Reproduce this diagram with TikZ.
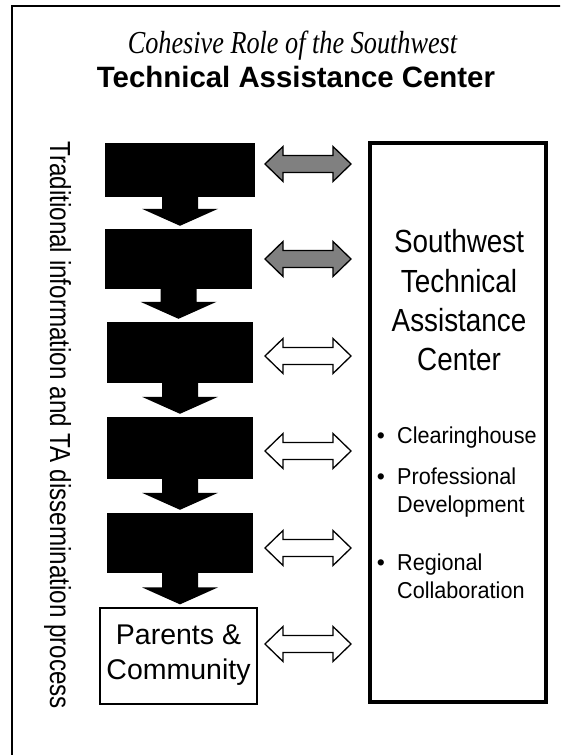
\documentclass[tikz,border=0pt]{standalone}
\usepackage{fontspec}
\setmainfont{Liberation Sans}
\newfontfamily\titleserif[FakeStretch=0.82]{Liberation Serif}
\newfontfamily\narrowsans[FakeStretch=0.835]{Liberation Sans}
\newfontfamily\boxsans[FakeStretch=0.87]{Liberation Sans}
\newfontfamily\itemsans[FakeStretch=0.94]{Liberation Sans}
\usetikzlibrary{calc}
\definecolor{linkgray}{HTML}{808080}

\tikzset{
  stagebox/.style={fill=black, draw=none, inner sep=0pt},
  framebox/.style={draw=black, line width=1.3pt, inner sep=0pt},
  centerbox/.style={draw=black, line width=4pt, inner sep=0pt},
  twoway/.pic={
    \path[pic actions] (-43,0) -- (-25,-17.5) -- (-25,-8.5) -- (25,-8.5)
      -- (25,-17.5) -- (43,0) -- (25,17.5) -- (25,8.5) -- (-25,8.5)
      -- (-25,17.5) -- cycle;
  },
  darklink/.style={draw=black, fill=linkgray, line width=1.3pt, line join=miter},
  lightlink/.style={draw=black, fill=white, line width=1.3pt, line join=miter},
  boxline/.style={inner sep=0pt, anchor=base, font=\boxsans\fontsize{32}{38}\selectfont},
  itemline/.style={inner sep=0pt, anchor=base west, font=\itemsans\fontsize{23}{28}\selectfont},
  bulletdot/.style={inner sep=0pt, anchor=base, font=\fontsize{23}{28}\selectfont},
  parentline/.style={inner sep=0pt, anchor=base, font=\fontsize{28.5}{34}\selectfont},
}

\begin{document}
\begin{tikzpicture}[x=1pt, y=-1pt]
\useasboundingbox (0,0) rectangle (560,755);
\clip (0,0) rectangle (560,755);

% outer frame (top and left edges)
\draw[line width=1.5pt] (565,6) -- (12,6) -- (12,760);

% title
\node[inner sep=0pt, anchor=base, font=\titleserif\itshape\fontsize{32}{38}\selectfont]
  (title1) at (292.5,53) {Cohesive Role of the Southwest};
\node[inner sep=0pt, anchor=base, font=\bfseries\fontsize{29.4}{34}\selectfont]
  (title2) at (296,87) {Technical Assistance Center};

% vertical caption
\node[inner sep=0pt, anchor=base west, rotate=-90, font=\narrowsans\fontsize{29}{34}\selectfont]
  (process) at (50,141) {Traditional information and TA dissemination process};

% stages of the dissemination process
\node[stagebox, minimum width=150, minimum height=54] (b1) at (180,170) {};
\node[stagebox, minimum width=147, minimum height=60] (b2) at (178.5,259) {};
\node[stagebox, minimum width=146, minimum height=61] (b3) at (180,352.5) {};
\node[stagebox, minimum width=146, minimum height=62] (b4) at (180,448) {};
\node[stagebox, minimum width=146, minimum height=60] (b5) at (180,543) {};
\node[framebox, minimum width=157, minimum height=96] (parents) at (178.5,656) {};
\node[parentline] (parents1) at (178.5,644) {Parents \&};
\node[parentline] (parents2) at (178.5,679) {Community};

% downward block arrows between stages
\foreach \a/\b in {b1/b2, b2/b3, b3/b4, b4/b5, b5/parents}{
  \fill let \p1=(\a.south), \p2=(\b.north) in
    (\x1-18pt,\y1) -- (\x1+18pt,\y1) -- (\x1+18pt,\y2+20pt) -- (\x1+38pt,\y2+20pt)
    -- (\x1,\y2+3pt) -- (\x1-38pt,\y2+20pt) -- (\x1-18pt,\y2+20pt) -- cycle;
}

% the center
\node[centerbox, minimum width=176, minimum height=559] (swtac) at (458,422.5) {};
\node[boxline] (c1) at (459,252) {Southwest};
\node[boxline] (c2) at (459,292) {Technical};
\node[boxline] (c3) at (459,331) {Assistance};
\node[boxline] (c4) at (459,370) {Center};

\node[bulletdot] (d1) at (381,443) {•};
\node[itemline] (i1) at (397,443) {Clearinghouse};
\node[bulletdot] (d2) at (381,484) {•};
\node[itemline] (i2) at (397,484) {Professional};
\node[itemline] (i2b) at (397,512) {Development};
\node[bulletdot] (d3) at (381,570) {•};
\node[itemline] (i3) at (397,570) {Regional};
\node[itemline] (i3b) at (397,598) {Collaboration};

% two-way links between each stage and the center
\coordinate (l1) at (308,164);
\coordinate (l2) at (308,259);
\coordinate (l3) at (308,356);
\coordinate (l4) at (308,451);
\coordinate (l5) at (308,548);
\coordinate (l6) at (308,644);
\pic[darklink] at (l1) {twoway};
\pic[darklink] at (l2) {twoway};
\pic[lightlink] at (l3) {twoway};
\pic[lightlink] at (l4) {twoway};
\pic[lightlink] at (l5) {twoway};
\pic[lightlink] at (l6) {twoway};
\end{tikzpicture}
\end{document}
